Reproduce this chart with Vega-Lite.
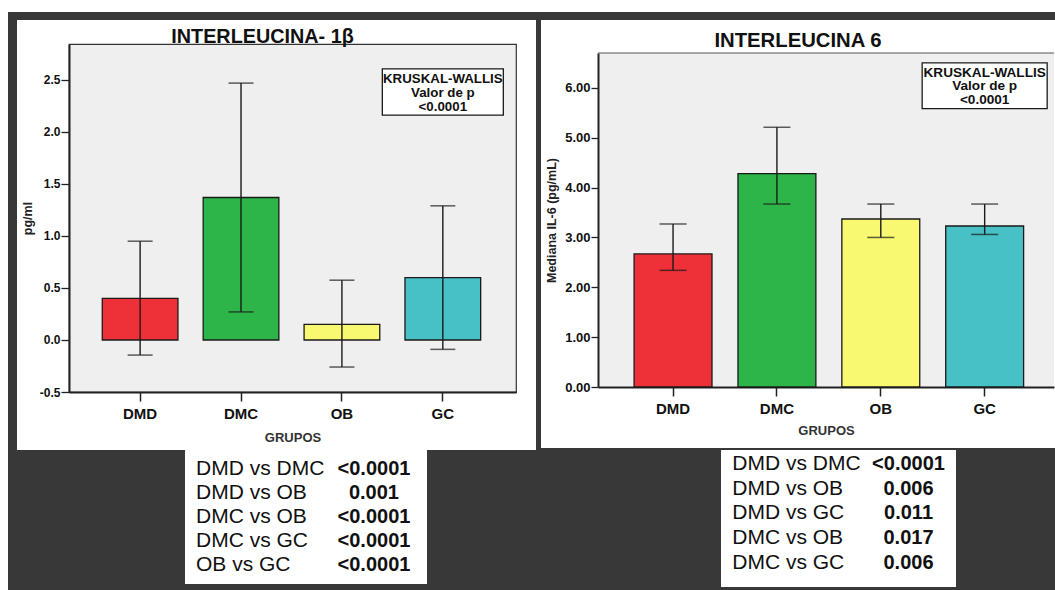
{
  "$schema": "https://vega.github.io/schema/vega-lite/v6.json",
  "background": "#ffffff",
  "padding": 0,
  "spacing": 0,
  "config": {
    "font": "Liberation Sans",
    "view": {"stroke": null},
    "concat": {"spacing": 0},
    "axis": {
      "labelFont": "Liberation Sans",
      "titleFont": "Liberation Sans",
      "labelFontWeight": "bold",
      "titleFontWeight": "bold",
      "labelColor": "#111111",
      "titleColor": "#222222",
      "tickColor": "#222222",
      "domainColor": "#222222",
      "grid": false
    }
  },
  "vconcat": [
    {"width": 1055, "height": 12, "data": {"values": []}, "mark": "rect", "encoding": {}},
    {
      "spacing": 0,
      "hconcat": [
        {"width": 8, "height": 578, "data": {"values": []}, "mark": "rect", "encoding": {}},
        {"width": 9, "height": 578, "data": {"values": []}, "mark": "rect", "encoding": {}, "view": {"fill": "#383838", "stroke": null}},
        {
          "spacing": 0,
          "vconcat": [
            {"width": 1038, "height": 8, "data": {"values": []}, "mark": "rect", "encoding": {}, "view": {"fill": "#383838", "stroke": null}},
            {
              "spacing": 0,
              "hconcat": [
                {
                  "columns": 3, "align": "each", "bounds": "flush", "spacing": 0,
                  "concat": [
                    {"width": 52, "height": 24, "data": {"values": []}, "mark": "rect", "encoding": {}},
                    {"width": 447, "height": 24, "data": {"values": []}, "mark": "rect", "encoding": {}},
                    {"width": 20, "height": 24, "data": {"values": []}, "mark": "rect", "encoding": {}},
                    {"width": 52, "height": 348, "data": {"values": []}, "mark": "rect", "encoding": {}},
                    {
                      "width": 447, "height": 348,
                      "view": {"fill": "#efefef", "stroke": "#333333", "strokeWidth": 1.2},
                      "title": {"text": "INTERLEUCINA- 1β", "fontSize": 19.8, "fontWeight": "bold", "color": "#111111", "anchor": "middle", "frame": "group", "dx": -30, "offset": -19, "baseline": "alphabetic"},
                      "data": {"values": [
                        {"grupo": "DMD", "mediana": 0.40, "inferior": -0.145, "superior": 0.95},
                        {"grupo": "DMC", "mediana": 1.37, "inferior": 0.27, "superior": 2.47},
                        {"grupo": "OB", "mediana": 0.15, "inferior": -0.26, "superior": 0.575},
                        {"grupo": "GC", "mediana": 0.60, "inferior": -0.09, "superior": 1.29}
                      ]},
                      "layer": [
                        {
                          "mark": {"type": "bar", "stroke": "#1a1a1a", "strokeWidth": 1.3},
                          "encoding": {
                            "x": {"field": "grupo", "type": "nominal", "sort": null, "title": "GRUPOS",
                              "scale": {"paddingInner": 0.25, "paddingOuter": 0.34, "align": 0.485},
                              "axis": {"labelAngle": 0, "labelFontSize": 15, "labelPadding": 5, "tickSize": 9, "tickWidth": 1.5, "domainWidth": 2, "titleFontSize": 13, "titlePadding": 10, "titleColor": "#333333"}},
                            "y": {"field": "mediana", "type": "quantitative", "title": "pg/ml",
                              "scale": {"domain": [-0.5, 2.846], "nice": false, "zero": false},
                              "axis": {"values": [-0.5, 0, 0.5, 1, 1.5, 2, 2.5], "format": ".1f", "labelExpr": "replace(datum.label, '−', '-')", "labelFontSize": 12, "tickSize": 8, "labelPadding": 1, "tickWidth": 1.3, "domainWidth": 2, "titleFontSize": 12.5, "titlePadding": 5}},
                            "y2": {"datum": 0},
                            "color": {"field": "grupo", "type": "nominal", "scale": {"domain": ["DMD", "DMC", "OB", "GC"], "range": ["#ee3038", "#2db54a", "#f9f871", "#47c1c6"]}, "legend": null}
                          }
                        },
                        {
                          "mark": {"type": "rule", "color": "#1a1a1a", "strokeWidth": 1.4},
                          "encoding": {
                            "x": {"field": "grupo", "type": "nominal", "sort": null, "title": "GRUPOS"},
                            "y": {"field": "inferior", "type": "quantitative", "title": "pg/ml"},
                            "y2": {"field": "superior"}
                          }
                        },
                        {
                          "mark": {"type": "tick", "color": "#1a1a1a", "size": 25, "thickness": 1.5},
                          "encoding": {
                            "x": {"field": "grupo", "type": "nominal", "sort": null, "title": "GRUPOS"},
                            "y": {"field": "superior", "type": "quantitative", "title": "pg/ml"}
                          }
                        },
                        {
                          "mark": {"type": "tick", "color": "#1a1a1a", "size": 25, "thickness": 1.5},
                          "encoding": {
                            "x": {"field": "grupo", "type": "nominal", "sort": null, "title": "GRUPOS"},
                            "y": {"field": "inferior", "type": "quantitative", "title": "pg/ml"}
                          }
                        },
                        {
                          "data": {"values": [{"prueba": "KRUSKAL-WALLIS"}]},
                          "mark": {"type": "bar", "fill": "#ffffff", "stroke": "#1a1a1a", "strokeWidth": 1.3, "width": 121},
                          "encoding": {
                            "x": {"datum": "GC", "type": "nominal", "title": "GRUPOS"},
                            "y": {"datum": 2.606, "type": "quantitative", "title": "pg/ml"},
                            "y2": {"datum": 2.163}
                          }
                        },
                        {
                          "data": {"values": [{"texto": "KRUSKAL-WALLIS\nValor de p\n<0.0001"}]},
                          "mark": {"type": "text", "lineBreak": "\n", "fontSize": 13.3, "fontWeight": "bold", "lineHeight": 14, "color": "#111111", "baseline": "middle"},
                          "encoding": {
                            "x": {"datum": "GC", "type": "nominal", "title": "GRUPOS"},
                            "y": {"datum": 2.51, "type": "quantitative", "title": "pg/ml"},
                            "text": {"field": "texto"}
                          }
                        }
                      ]
                    },
                    {"width": 20, "height": 348, "data": {"values": []}, "mark": "rect", "encoding": {}},
                    {"width": 52, "height": 58, "data": {"values": []}, "mark": "rect", "encoding": {}},
                    {"width": 447, "height": 58, "data": {"values": []}, "mark": "rect", "encoding": {}},
                    {"width": 20, "height": 58, "data": {"values": []}, "mark": "rect", "encoding": {}}
                  ]
                },
                {"width": 5, "height": 430, "data": {"values": []}, "mark": "rect", "encoding": {}, "view": {"fill": "#383838", "stroke": null}},
                {
                  "columns": 2, "align": "each", "bounds": "flush", "spacing": 0,
                  "concat": [
                    {"width": 57, "height": 33, "data": {"values": []}, "mark": "rect", "encoding": {}},
                    {"width": 457, "height": 33, "data": {"values": []}, "mark": "rect", "encoding": {}},
                    {"width": 57, "height": 334, "data": {"values": []}, "mark": "rect", "encoding": {}},
                    {
                      "width": 456, "height": 334,
                      "view": {"fill": "#efefef", "stroke": null},
                      "title": {"text": "INTERLEUCINA 6", "fontSize": 20.3, "fontWeight": "bold", "color": "#111111", "anchor": "middle", "frame": "group", "dx": -28, "offset": -15, "baseline": "alphabetic"},
                      "data": {"values": [
                        {"grupo": "DMD", "mediana": 2.67, "inferior": 2.34, "superior": 3.27},
                        {"grupo": "DMC", "mediana": 4.28, "inferior": 3.67, "superior": 5.21},
                        {"grupo": "OB", "mediana": 3.37, "inferior": 3.00, "superior": 3.67},
                        {"grupo": "GC", "mediana": 3.23, "inferior": 3.06, "superior": 3.67}
                      ]},
                      "layer": [
                        {
                          "mark": {"type": "bar", "stroke": "#1a1a1a", "strokeWidth": 1.3},
                          "encoding": {
                            "x": {"field": "grupo", "type": "nominal", "sort": null, "title": "GRUPOS",
                              "scale": {"paddingInner": 0.25, "paddingOuter": 0.32, "align": 0.543},
                              "axis": {"labelAngle": 0, "labelFontSize": 15, "labelPadding": 5, "tickSize": 9, "tickWidth": 1.5, "domainWidth": 2, "titleFontSize": 13, "titlePadding": 8, "titleColor": "#333333"}},
                            "y": {"field": "mediana", "type": "quantitative", "title": "Mediana IL-6 (pg/mL)",
                              "scale": {"domain": [0, 6.7], "nice": false, "zero": false},
                              "axis": {"values": [0, 1, 2, 3, 4, 5, 6], "format": ".2f", "labelFontSize": 13, "tickSize": 7, "labelPadding": 1, "tickWidth": 1.3, "domainWidth": 2, "titleFontSize": 12.5, "titlePadding": 6}},
                            "y2": {"datum": 0},
                            "color": {"field": "grupo", "type": "nominal", "scale": {"domain": ["DMD", "DMC", "OB", "GC"], "range": ["#ee3038", "#2db54a", "#f9f871", "#47c1c6"]}, "legend": null}
                          }
                        },
                        {
                          "mark": {"type": "rule", "color": "#1a1a1a", "strokeWidth": 1.4},
                          "encoding": {
                            "x": {"field": "grupo", "type": "nominal", "sort": null, "title": "GRUPOS"},
                            "y": {"field": "inferior", "type": "quantitative", "title": "Mediana IL-6 (pg/mL)"},
                            "y2": {"field": "superior"}
                          }
                        },
                        {
                          "mark": {"type": "tick", "color": "#1a1a1a", "size": 27, "thickness": 1.5},
                          "encoding": {
                            "x": {"field": "grupo", "type": "nominal", "sort": null, "title": "GRUPOS"},
                            "y": {"field": "superior", "type": "quantitative", "title": "Mediana IL-6 (pg/mL)"}
                          }
                        },
                        {
                          "mark": {"type": "tick", "color": "#1a1a1a", "size": 27, "thickness": 1.5},
                          "encoding": {
                            "x": {"field": "grupo", "type": "nominal", "sort": null, "title": "GRUPOS"},
                            "y": {"field": "inferior", "type": "quantitative", "title": "Mediana IL-6 (pg/mL)"}
                          }
                        },
                        {
                          "data": {"values": [{"marco": "superior"}]},
                          "mark": {"type": "rule", "color": "#555555", "strokeWidth": 1.2},
                          "encoding": {
                            "y": {"datum": 6.7, "type": "quantitative", "title": "Mediana IL-6 (pg/mL)"}
                          }
                        },
                        {
                          "data": {"values": [{"prueba": "KRUSKAL-WALLIS"}]},
                          "mark": {"type": "bar", "fill": "#ffffff", "stroke": "#1a1a1a", "strokeWidth": 1.3, "width": 125},
                          "encoding": {
                            "x": {"datum": "GC", "type": "nominal", "title": "GRUPOS"},
                            "y": {"datum": 6.5, "type": "quantitative", "title": "Mediana IL-6 (pg/mL)"},
                            "y2": {"datum": 5.585}
                          }
                        },
                        {
                          "data": {"values": [{"texto": "KRUSKAL-WALLIS\nValor de p\n<0.0001"}]},
                          "mark": {"type": "text", "lineBreak": "\n", "fontSize": 13.6, "fontWeight": "bold", "lineHeight": 13.5, "color": "#111111", "baseline": "middle"},
                          "encoding": {
                            "x": {"datum": "GC", "type": "nominal", "title": "GRUPOS"},
                            "y": {"datum": 6.30, "type": "quantitative", "title": "Mediana IL-6 (pg/mL)"},
                            "text": {"field": "texto"}
                          }
                        }
                      ]
                    },
                    {"width": 57, "height": 61, "data": {"values": []}, "mark": "rect", "encoding": {}},
                    {"width": 457, "height": 61, "data": {"values": []}, "mark": "rect", "encoding": {}},
                    {"width": 57, "height": 2, "data": {"values": []}, "mark": "rect", "encoding": {}, "view": {"fill": "#383838", "stroke": null}},
                    {"width": 457, "height": 2, "data": {"values": []}, "mark": "rect", "encoding": {}, "view": {"fill": "#383838", "stroke": null}}
                  ]
                }
              ]
            },
            {
              "spacing": 0,
              "hconcat": [
                {"width": 168, "height": 140, "data": {"values": []}, "mark": "rect", "encoding": {}, "view": {"fill": "#383838", "stroke": null}},
                {
                  "spacing": 0, "bounds": "flush",
                  "vconcat": [
                    {
                      "width": 242, "height": 134,
                      "view": {"fill": "#ffffff", "stroke": null},
                      "data": {"values": [
                        {"comparacion": "DMD vs DMC", "p": "<0.0001"},
                        {"comparacion": "DMD vs OB", "p": "0.001"},
                        {"comparacion": "DMC vs OB", "p": "<0.0001"},
                        {"comparacion": "DMC vs GC", "p": "<0.0001"},
                        {"comparacion": "OB vs GC", "p": "<0.0001"}
                      ]},
                      "layer": [
                        {
                          "mark": {"type": "text", "align": "left", "baseline": "middle", "fontSize": 21, "color": "#111111"},
                          "encoding": {
                            "x": {"datum": "Comparación", "type": "nominal", "bandPosition": 0,
                              "scale": {"type": "band", "domain": ["Comparación", "Valor p"], "paddingInner": 0.5, "paddingOuter": 0.1, "align": 0.387}, "axis": null},
                            "y": {"field": "comparacion", "type": "nominal", "sort": null, "scale": {"type": "point", "padding": 0.763}, "axis": null},
                            "text": {"field": "comparacion"}
                          }
                        },
                        {
                          "mark": {"type": "text", "align": "center", "baseline": "middle", "fontSize": 20, "fontWeight": "bold", "color": "#111111"},
                          "encoding": {
                            "x": {"datum": "Valor p", "type": "nominal", "bandPosition": 0.5, "axis": null},
                            "y": {"field": "comparacion", "type": "nominal", "sort": null, "axis": null},
                            "text": {"field": "p"}
                          }
                        }
                      ]
                    },
                    {"width": 242, "height": 6, "data": {"values": []}, "mark": "rect", "encoding": {}, "view": {"fill": "#383838", "stroke": null}}
                  ]
                },
                {"width": 294, "height": 140, "data": {"values": []}, "mark": "rect", "encoding": {}, "view": {"fill": "#383838", "stroke": null}},
                {
                  "spacing": 0, "bounds": "flush",
                  "vconcat": [
                    {
                      "width": 235, "height": 137,
                      "view": {"fill": "#ffffff", "stroke": null},
                      "data": {"values": [
                        {"comparacion": "DMD vs DMC", "p": "<0.0001"},
                        {"comparacion": "DMD vs OB", "p": "0.006"},
                        {"comparacion": "DMD vs GC", "p": "0.011"},
                        {"comparacion": "DMC vs OB", "p": "0.017"},
                        {"comparacion": "DMC vs GC", "p": "0.006"}
                      ]},
                      "layer": [
                        {
                          "mark": {"type": "text", "align": "left", "baseline": "middle", "fontSize": 21, "color": "#111111"},
                          "encoding": {
                            "x": {"datum": "Comparación", "type": "nominal", "bandPosition": 0,
                              "scale": {"type": "band", "domain": ["Comparación", "Valor p"], "paddingInner": 0.6, "paddingOuter": 0.1, "align": 0.384}, "axis": null},
                            "y": {"field": "comparacion", "type": "nominal", "sort": null, "scale": {"type": "point", "padding": 0.768, "align": 0.368}, "axis": null},
                            "text": {"field": "comparacion"}
                          }
                        },
                        {
                          "mark": {"type": "text", "align": "center", "baseline": "middle", "fontSize": 20, "fontWeight": "bold", "color": "#111111"},
                          "encoding": {
                            "x": {"datum": "Valor p", "type": "nominal", "bandPosition": 0.5, "axis": null},
                            "y": {"field": "comparacion", "type": "nominal", "sort": null, "axis": null},
                            "text": {"field": "p"}
                          }
                        }
                      ]
                    },
                    {"width": 235, "height": 3, "data": {"values": []}, "mark": "rect", "encoding": {}, "view": {"fill": "#383838", "stroke": null}}
                  ]
                },
                {"width": 99, "height": 140, "data": {"values": []}, "mark": "rect", "encoding": {}, "view": {"fill": "#383838", "stroke": null}}
              ]
            }
          ]
        }
      ]
    }
  ]
}
